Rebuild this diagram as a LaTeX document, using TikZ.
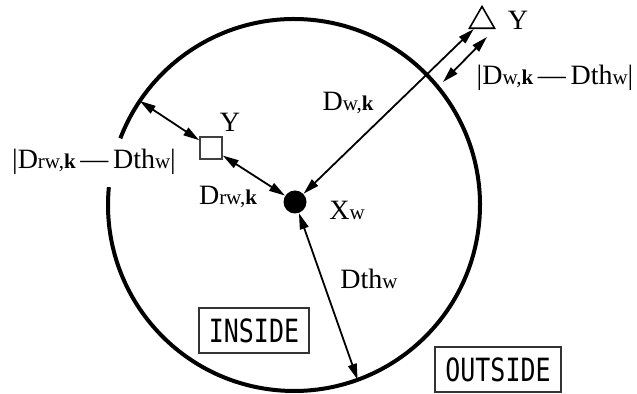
\documentclass[tikz,border=0pt]{standalone}
\usepackage{fontspec}
\setmainfont{Liberation Serif}
\newfontfamily\boxfont{DejaVu Sans Mono}
\usetikzlibrary{arrows.meta, calc, shapes.geometric}
\newcommand{\lbsub}[1]{{\fontsize{10.5}{10.5}\selectfont #1}}

\begin{document}
\begin{tikzpicture}[x=0.5pt, y=0.5pt,
  lbl/.style={inner sep=0pt, font=\fontsize{14}{15}\selectfont},
  dist/.style={{Triangle[length=8pt,width=4.4pt]}-{Triangle[length=8pt,width=4.4pt]}, line width=0.9pt},
  region/.style={draw=black!80, line width=1pt, minimum height=22.5pt, inner xsep=5pt, font=\boxfont\fontsize{16}{16}\selectfont}]
\useasboundingbox (0,0) rectangle (637,394);
\coordinate (C) at (294,189);
% threshold circle, open on the left
\draw[line width=2pt] ($(C)+(174.5:186)$) arc[start angle=174.5, end angle=519, radius=186];
\node[circle, fill=black, minimum size=11.5pt, inner sep=0pt] (xw) at (295,192) {};
\node[draw=black!75, line width=0.8pt, minimum size=11pt, inner sep=0pt] (sq) at (211,246) {};
\node[draw, regular polygon, regular polygon sides=3, line width=0.8pt, minimum size=14.5pt, inner sep=0pt] (tri) at (482,373) {};
% labels
\node[lbl] (xwl) at (347,184) {X\lbsub{w}};
\node[lbl] (dthl) at (369,115) {Dth\lbsub{w}};
\node[lbl] (dwl) at (348,291) {D\lbsub{w,\textbf{k}}};
\node[lbl] (ysq) at (230,272) {Y};
\node[lbl] (ytri) at (518,374) {Y};
\node[lbl] (drl) at (228,197) {D\lbsub{rw,\textbf{k}}};
\node[lbl] (diffin) at (94,232) {|D\lbsub{rw,\textbf{k}}\,\textemdash\,Dth\lbsub{w}|};
\node[lbl] (diffout) at (555,316) {|D\lbsub{w,\textbf{k}}\,\textemdash\,Dth\lbsub{w}|};
\node[region] (ins) at (254,63) {\scalebox{0.78}[1]{INSIDE}};
\node[region] (outs) at (498,24) {\scalebox{0.78}[1]{OUTSIDE}};
% distances
\coordinate (thp) at ($(C)+(-70:186)$);
\coordinate (cl) at ($(C)+(146:186)$);
\coordinate (din) at (443,312);
\coordinate (dout) at (487,357);
\draw[dist] (xw) -- (thp);
\draw[dist] (xw) -- (tri);
\draw[dist] (cl) -- (sq);
\draw[dist] (sq) -- (xw);
\draw[dist] (din) -- (dout);
\end{tikzpicture}
\end{document}
